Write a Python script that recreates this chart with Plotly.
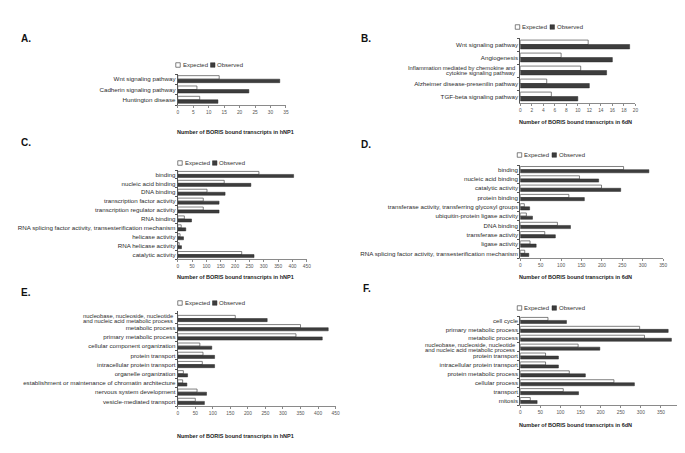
import plotly.graph_objects as go

W, H = 685, 453

A_cats = ["Wnt signaling pathway", "Cadherin signaling pathway", "Huntington disease"]
A_exp = [13.4, 6.2, 7.1]
A_obs = [33, 23, 13]

B_cats = ["Wnt signaling pathway", "Angiogenesis",
          "Inflammation mediated by chemokine and<br>cytokine signaling pathway",
          "Alzheimer disease-presenilin pathway", "TGF-beta signaling pathway"]
B_exp = [11.8, 7.1, 10.5, 4.6, 5.4]
B_obs = [19, 16, 15, 12, 10]

C_cats = ["binding", "nucleic acid binding", "DNA binding", "transcription factor activity",
          "transcription regulator activity", "RNA binding",
          "RNA splicing factor activity, transesterification mechanism",
          "helicase activity", "RNA helicase activity", "catalytic activity"]
C_exp = [283, 162, 102, 89, 89, 23, 12, 8, 5, 223]
C_obs = [404, 255, 165, 144, 144, 48, 28, 20, 13, 266]

D_cats = ["binding", "nucleic acid binding", "catalytic activity", "protein binding",
          "transferase activity, transferring glycosyl groups", "ubiquitin-protein ligase activity",
          "DNA binding", "transferase activity", "ligase activity",
          "RNA splicing factor activity, transesterification mechanism"]
D_exp = [253, 145, 199, 119, 10, 15, 91, 60, 24, 11]
D_obs = [315, 192, 246, 157, 23, 30, 123, 86, 39, 21]

E_cats = ["nucleobase, nucleoside, nucleotide<br>and nucleic acid metabolic process",
          "metabolic process", "primary metabolic process", "cellular component organization",
          "protein transport", "intracellular protein transport", "organelle organization",
          "establishment or maintenance of chromatin architecture",
          "nervous system development", "vesicle-mediated transport"]
E_exp = [164, 350, 337, 63, 72, 70, 16, 14, 55, 50]
E_obs = [255, 429, 412, 97, 105, 105, 28, 26, 82, 76]

F_cats = ["cell cycle", "primary metabolic process", "metabolic process",
          "nucleobase, nucleoside, nucleotide<br>and nucleic acid metabolic process",
          "protein transport", "intracellular protein transport", "protein metabolic process",
          "cellular process", "transport", "mitosis"]
F_exp = [69, 297, 309, 144, 63, 63, 122, 233, 107, 25]
F_obs = [115, 368, 376, 198, 95, 95, 162, 284, 145, 42]

series_names = ["Expected", "Observed"]
panel_letters = ["A.", "B.", "C.", "D.", "E.", "F."]
axis_titles = ["Number of BORIS bound transcripts in hNP1", "Number of BORIS bound transcripts in 6dN",
               "Number of BORIS bound transcripts in hNP1", "Number of BORIS bound transcripts in 6dN",
               "Number of BORIS bound transcripts in hNP1", "Number of BORIS bound transcripts in 6dN"]
x_max = [35, 20, 450, 350, 450, 400]
x_step = [5, 2, 50, 50, 50, 50]

panels = [(A_cats, A_exp, A_obs), (B_cats, B_exp, B_obs), (C_cats, C_exp, C_obs),
          (D_cats, D_exp, D_obs), (E_cats, E_exp, E_obs), (F_cats, F_exp, F_obs)]

# layout geometry in pixels: (x0, x1, ytop, ybottom)
boxes = [(170, 279, 66, 97), (515, 631, 30, 95), (170, 300, 162, 251),
         (515, 659, 157, 250), (170, 329, 303, 398), (515, 677, 308, 397)]
legend_pos = [(168, 57), (510, 19), (170, 155), (512, 147), (170, 295), (512, 300)]
label_pos = [(10, 30), (353, 30), (10, 135), (353, 136), (10, 284), (355, 280)]
title_y = [124, 114, 269, 269, 428, 417]

EXP_FILL = "#ffffff"
OBS_FILL = "#3d3d3d"
EDGE = "#4a4a4a"
FONT = "Liberation Sans, Arial, sans-serif"
CAT_SIZE = 6.2
TWO_LINE_SIZE = 5.8

def px(x):
    return x / W

def py(y):
    return 1 - y / H

fig = go.Figure()
layout = dict(width=W, height=H, margin=dict(l=0, r=0, t=0, b=0),
              paper_bgcolor="white", plot_bgcolor="white",
              barmode="group", bargap=0.32, bargroupgap=0.0,
              showlegend=False, font=dict(family=FONT, color="#333"))
annotations = []
shapes = []

for i, (cats, exp, obs) in enumerate(panels):
    n = i + 1
    xa = "x" if n == 1 else f"x{n}"
    ya = "y" if n == 1 else f"y{n}"
    fig.add_trace(go.Bar(y=cats, x=exp, orientation="h", name=series_names[0],
                         marker=dict(color=EXP_FILL, line=dict(color=EDGE, width=0.7)),
                         xaxis=xa, yaxis=ya))
    fig.add_trace(go.Bar(y=cats, x=obs, orientation="h", name=series_names[1],
                         marker=dict(color=OBS_FILL, line=dict(color="#2a2a2a", width=0.5)),
                         xaxis=xa, yaxis=ya))
    x0, x1, yt, yb = boxes[i]
    xkey = "xaxis" if n == 1 else f"xaxis{n}"
    ykey = "yaxis" if n == 1 else f"yaxis{n}"
    ticktext = [c if "<br>" not in c else "" for c in cats]
    layout[xkey] = dict(domain=[px(x0), px(x1)], anchor=ya, range=[0, x_max[i]],
                        dtick=x_step[i], tick0=0, showgrid=False, zeroline=False,
                        showline=True, linecolor="#8a8a8a", linewidth=1,
                        ticks="outside", ticklen=2, tickcolor="#8a8a8a", tickwidth=1,
                        tickfont=dict(size=4.8, color="#555", family=FONT))
    layout[ykey] = dict(domain=[py(yb), py(yt)], anchor=xa, autorange="reversed",
                        type="category", showgrid=False, zeroline=False,
                        tickmode="array", tickvals=cats, ticktext=ticktext,
                        showline=True, linecolor="#555", linewidth=1,
                        ticks="outside", ticklen=2, tickcolor="#555", tickson="boundaries",
                        tickfont=dict(size=CAT_SIZE, color="#2b2b2b", family=FONT))
    # two-line category labels, set tight like the original
    for c in cats:
        if "<br>" in c:
            lines = c.split("<br>")
            for k, line in enumerate(lines):
                annotations.append(dict(text=line, x=px(x0 - 3), y=c, xref="paper", yref=ya,
                                        xanchor="right", yanchor="middle", showarrow=False,
                                        yshift=2.5 if k == 0 else -2.5,
                                        font=dict(size=TWO_LINE_SIZE, color="#2b2b2b", family=FONT)))
    # panel letter
    lx, ly = label_pos[i]
    annotations.append(dict(text=f"<b>{panel_letters[i]}</b>", x=px(lx), y=py(ly),
                            xref="paper", yref="paper", xanchor="left", yanchor="middle",
                            showarrow=False, font=dict(size=10, color="#111", family=FONT)))
    # axis title
    annotations.append(dict(text=f"<b>{axis_titles[i]}</b>", x=px(x0 - 3), y=py(title_y[i]),
                            xref="paper", yref="paper", xanchor="left", yanchor="middle",
                            showarrow=False, font=dict(size=5.5, color="#222", family=FONT)))
    # legend
    gx, gy = legend_pos[i]
    s = 4.5
    shapes.append(dict(type="rect", xref="paper", yref="paper",
                       x0=px(gx), x1=px(gx + s), y0=py(gy + s / 2), y1=py(gy - s / 2),
                       fillcolor=EXP_FILL, line=dict(color=EDGE, width=0.7)))
    annotations.append(dict(text=series_names[0], x=px(gx + s + 0.5), y=py(gy),
                            xref="paper", yref="paper", xanchor="left", yanchor="middle",
                            showarrow=False, font=dict(size=6.0, color="#333", family=FONT)))
    bx = gx + 35
    shapes.append(dict(type="rect", xref="paper", yref="paper",
                       x0=px(bx), x1=px(bx + s), y0=py(gy + s / 2), y1=py(gy - s / 2),
                       fillcolor=OBS_FILL, line=dict(color="#2a2a2a", width=0.5)))
    annotations.append(dict(text=series_names[1], x=px(bx + s + 0.5), y=py(gy),
                            xref="paper", yref="paper", xanchor="left", yanchor="middle",
                            showarrow=False, font=dict(size=6.0, color="#333", family=FONT)))

layout["annotations"] = annotations
layout["shapes"] = shapes
fig.update_layout(**layout)
fig.write_html("out.html")
